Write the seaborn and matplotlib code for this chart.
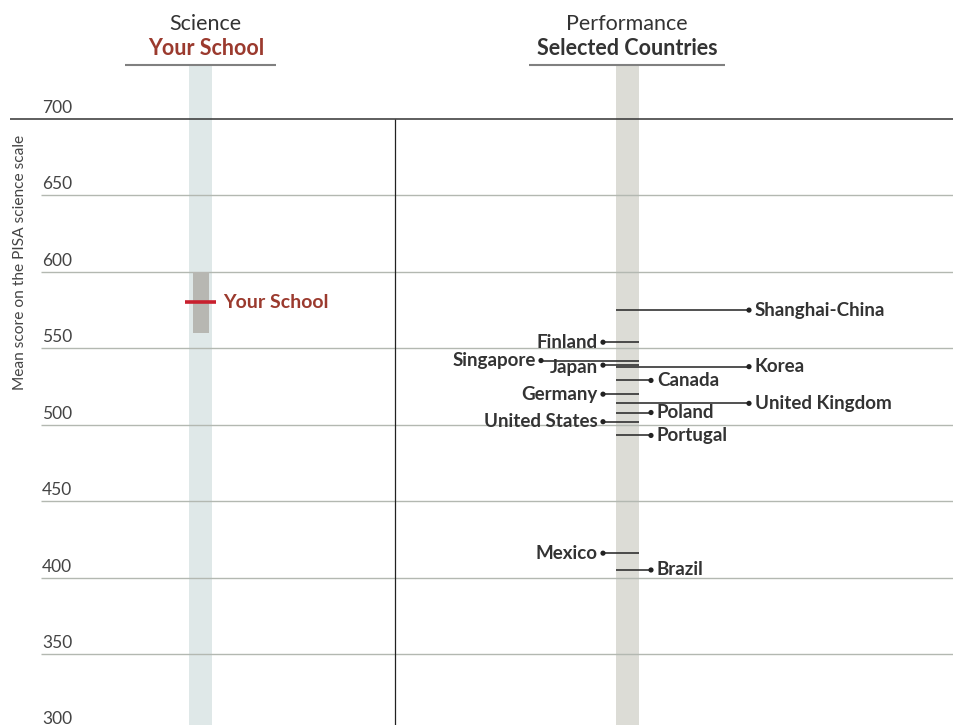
import matplotlib
matplotlib.use("Agg")
import matplotlib.pyplot as plt
import seaborn as sns
import pandas as pd

# Scores on the PISA science scale
countries = ["Shanghai-China", "Finland", "Singapore", "Korea", "Japan", "Canada",
             "Germany", "United Kingdom", "Poland", "United States", "Portugal",
             "Mexico", "Brazil"]
scores = [575, 554, 542, 538, 539, 529, 520, 514, 508, 502, 493, 416, 405]
label_side = ["right", "left", "left", "right", "left", "right",
              "left", "right", "right", "left", "right", "left", "right"]
label_reach = ["long", "short", "long", "long", "short", "short",
               "short", "long", "short", "short", "short", "short", "short"]
# small vertical nudges (in score units) to keep crowded labels apart
label_nudge = [0, 0, 0, 0, -1.8, 0, 0, 0, 0, 0, 0, 0, 0]

school_score = 580
school_low, school_high = 560, 600

y_ticks = [700, 650, 600, 550, 500, 450, 400, 350, 300]

sns.set_theme(style="white")
plt.rcParams["font.family"] = ["Lato", "DejaVu Sans"]

TXT = "#333333"
RED_TXT = "#9b3a2e"
RED_LINE = "#c8202e"
GRID = "#b3b8b1"

fig = plt.figure(figsize=(9.54, 7.25), dpi=100)
ax = fig.add_axes([0, 0, 1, 1])
ax.set_xlim(0, 954)
ax.set_ylim(303.6, 777.85)
ax.axis("off")

def yv(px):
    return 777.85 - px / 1.5286

band_top = yv(65)

# column bands
ax.fill_between([189, 212], 300, band_top, color="#dfe8e8", lw=0, zorder=1)
ax.fill_between([616, 639], 300, band_top, color="#dcdcd6", lw=0, zorder=1)

# gridlines and tick labels
for t in y_ticks:
    if t == 700:
        ax.hlines(t, 10, 954, color="#333333", lw=1.1, zorder=2)
    else:
        ax.hlines(t, 41, 954, color=GRID, lw=1.0, zorder=2)
    ax.text(42, t + 2.0, str(t), ha="left", va="bottom", fontsize=12.5,
            color="#444444", zorder=3)

# divider between the two panels
ax.vlines(395, 300, 700, color="#222222", lw=0.9, zorder=3)

ax.text(20, yv(262), "Mean score on the PISA science scale", rotation=90,
        ha="center", va="center", fontsize=11.2, color="#444444")

# headers
ax.text(205, yv(24), "Science", ha="center", va="center", fontsize=15.5, color=TXT)
ax.text(206, yv(48), "Your School", ha="center", va="center", fontsize=15.5,
        fontweight="bold", color=RED_TXT)
ax.hlines(band_top, 125, 276, color="#808080", lw=1.5)
ax.text(627, yv(24), "Performance", ha="center", va="center", fontsize=15.5, color=TXT)
ax.text(627, yv(48), "Selected Countries", ha="center", va="center", fontsize=15.5,
        fontweight="bold", color=TXT)
ax.hlines(band_top, 529, 725, color="#808080", lw=1.5)

# your school
ax.fill_between([193, 209], school_low, school_high, color="#b7b7b2", lw=0, zorder=3)
ax.hlines(school_score, 185, 216, color=RED_LINE, lw=2.6, zorder=4)
ax.text(223, school_score, "Your School", ha="left", va="center", fontsize=14,
        fontweight="bold", color=RED_TXT)

# countries
df = pd.DataFrame({"country": countries, "score": scores, "side": label_side,
                   "reach": label_reach, "nudge": label_nudge})
dot_x = []
for _, r in df.iterrows():
    if r.side == "left":
        x_end = 541 if r.reach == "long" else 603
        ax.hlines(r.score, x_end, 639, color="#222222", lw=1.1, zorder=4)
        ax.text(x_end - 5, r.score + r.nudge, r.country, ha="right", va="center",
                fontsize=13.5, fontweight="bold", color=TXT, zorder=5)
    else:
        x_end = 749 if r.reach == "long" else 651
        ax.hlines(r.score, 616, x_end, color="#222222", lw=1.1, zorder=4)
        ax.text(x_end + 6, r.score + r.nudge, r.country, ha="left", va="center",
                fontsize=13.5, fontweight="bold", color=TXT, zorder=5)
    dot_x.append(x_end)
df["dot_x"] = dot_x

sns.scatterplot(data=df, x="dot_x", y="score", color="#222222", s=14,
                edgecolor="none", ax=ax, zorder=6, legend=False)
ax.set_xlim(0, 954)
ax.set_ylim(303.6, 777.85)
ax.axis("off")

fig.savefig("out.png", dpi=100)
